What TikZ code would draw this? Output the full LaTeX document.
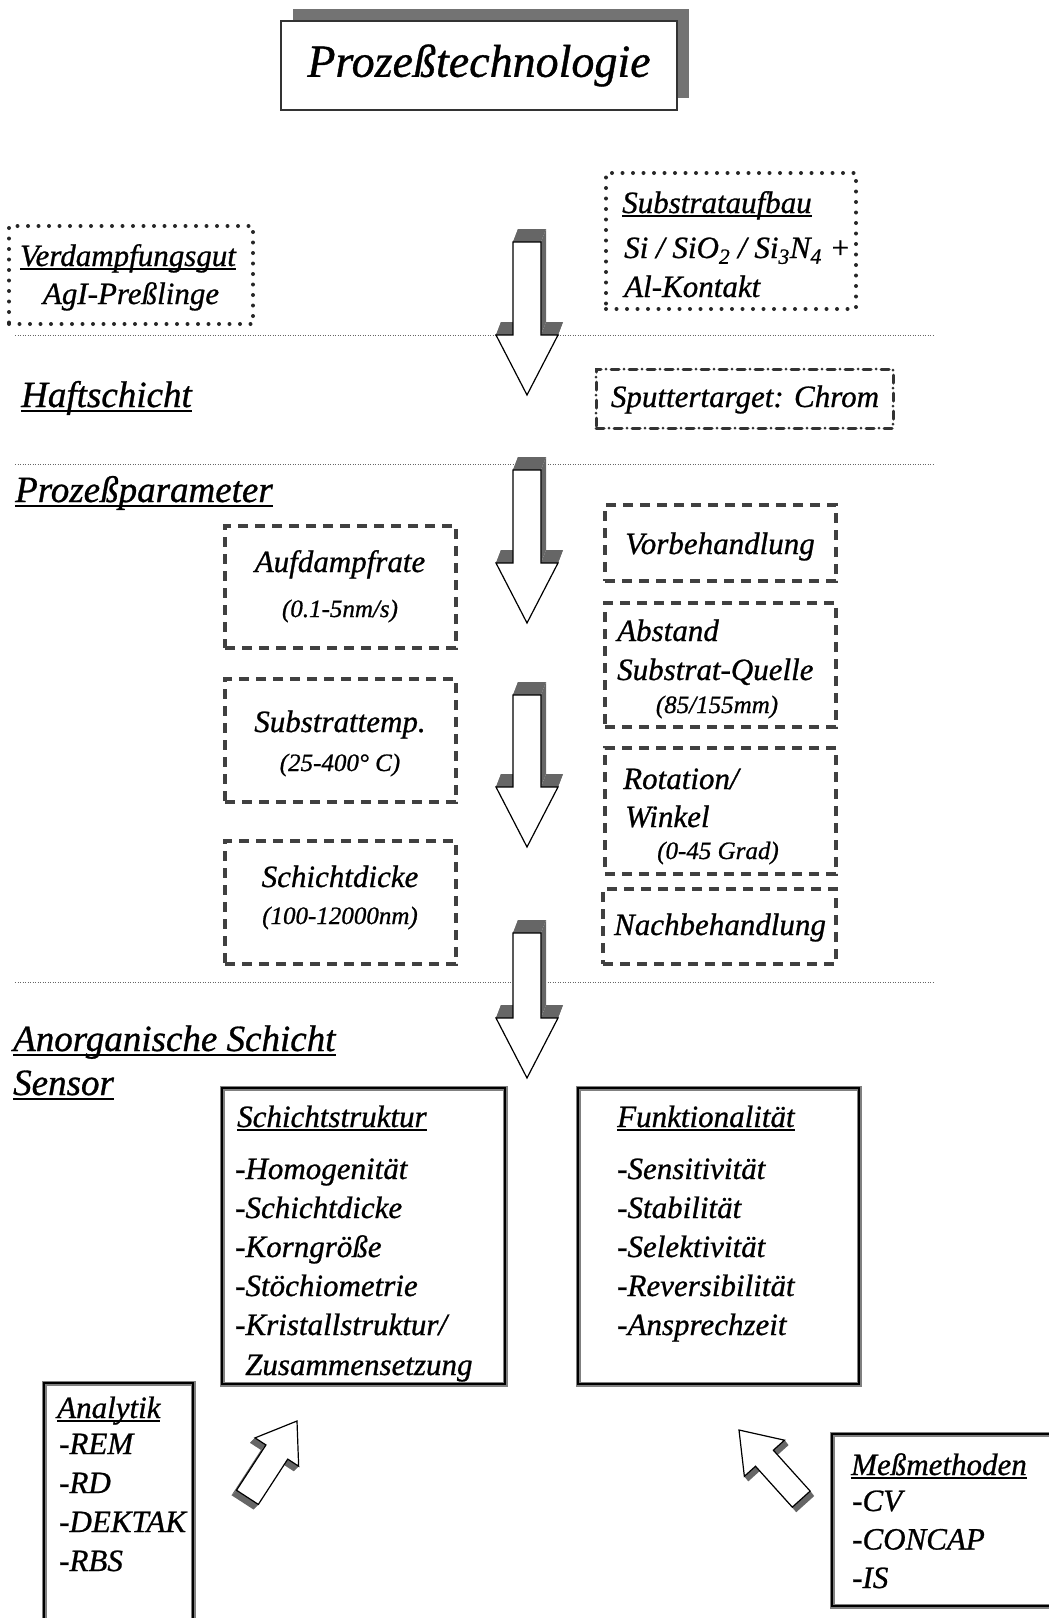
\documentclass[tikz,border=0pt]{standalone}
\usepackage{fontspec}
\setmainfont{Liberation Serif}[ItalicFeatures={FakeBold=0.8}]
\usetikzlibrary{calc}

% underlined words
\newcommand{\undl}[1]{\setbox0\hbox{#1}\rlap{\rule[-0.13em]{\wd0}{0.06em}}\box0}

% 3D block arrow: tip, rotation, head half width, head length, shaft half width, shaft length, depth
\newcommand{\blockarrow}[7]{%
  \begin{scope}[shift={#1}, rotate=#2]
    \coordinate (p1) at (0,0);
    \coordinate (p2) at (#3,-#4);
    \coordinate (p3) at (#5,-#4);
    \coordinate (p4) at (#5,-#4-#6);
    \coordinate (p5) at (-#5,-#4-#6);
    \coordinate (p6) at (-#5,-#4);
    \coordinate (p7) at (-#3,-#4);
  \end{scope}
  \foreach \a/\b in {p1/p2,p2/p3,p3/p4,p4/p5,p5/p6,p6/p7,p7/p1}
    \fill[arrowside] (\a) -- (\b) -- ($(\b)+#7$) -- ($(\a)+#7$) -- cycle;
  \filldraw[arrowface] (p1) -- (p2) -- (p3) -- (p4) -- (p5) -- (p6) -- (p7) -- cycle;
}

\tikzset{
  txt/.style={font=\fontsize{31}{38}\selectfont\itshape, inner sep=0pt},
  smalltxt/.style={font=\fontsize{25}{30}\selectfont\itshape, inner sep=0pt},
  headtxt/.style={font=\fontsize{37}{44}\selectfont\itshape, inner sep=0pt},
  titletxt/.style={font=\fontsize{46}{54}\selectfont\itshape},
  titlebox/.style={draw=black!80, line width=2.5pt, fill=white, minimum width=396pt, minimum height=89pt, inner sep=0pt},
  dotbox/.style={draw=black!85, line width=4pt, line cap=round, dash pattern=on 0pt off 10.5pt, inner sep=0pt},
  dashdotbox/.style={draw=black!80, line width=3pt, line cap=round, dash pattern=on 8pt off 5pt on 0pt off 5pt, inner sep=0pt},
  dashbox/.style={draw=black!75, line width=3.5pt, dash pattern=on 10pt off 7pt, inner sep=0pt},
  solidbox/.style={draw=black!50, line width=5pt, postaction={draw=black, line width=1.2pt}, inner sep=0pt},
  sepline/.style={black!60, line width=0.8pt, dash pattern=on 1pt off 1.5pt},
  arrowface/.style={fill=white, draw=black, line width=1.2pt},
  arrowside/.style={fill=black!60},
}

\begin{document}
\begin{tikzpicture}[x=1pt, y=-1pt]
\useasboundingbox (0,0) rectangle (1049,1618);
\clip (0,0) rectangle (1049,1618);

%title
\fill[black!55] (293,9) rectangle (689,98);
\node[titlebox, titletxt] (title) at (479,65.5) {Prozeßtechnologie};

%separating lines
\coordinate (L1) at (15,335);  \coordinate (R1) at (935,335);
\coordinate (L2) at (15,464);  \coordinate (R2) at (935,464);
\coordinate (L3) at (15,982);  \coordinate (R3) at (935,982);
\draw[sepline] (L1) -- (R1);
\draw[sepline] (L2) -- (R2);
\draw[sepline] (L3) -- (R3);

%source and substrate
\node[dotbox, minimum width=244pt, minimum height=98pt] (gut) at (131,275) {};
\node[txt, anchor=base] (gutA) at (128,266) {\undl{Verdampfungsgut}};
\node[txt, anchor=base] (gutB) at (131,304) {AgI-Preßlinge};

\node[dotbox, minimum width=250pt, minimum height=136pt] (substrat) at (731,241) {};
\node[txt, anchor=base] (substratA) at (717,213) {\undl{Substrataufbau}};
\node[txt, anchor=base west] (substratB) at (624,258) {Si / SiO\textsubscript{2} / Si\textsubscript{3}N\textsubscript{4} +};
\node[txt, anchor=base west] (substratC) at (624,297) {Al-Kontakt};

%adhesion layer
\node[headtxt, anchor=base west] (haft) at (21,407) {\undl{Haftschicht}};
\node[dashdotbox, minimum width=297pt, minimum height=59pt] (chrom) at (744.5,398.5) {};
\node[txt, anchor=base] (chromA) at (745,407) {Sputtertarget: Chrom};

%process parameters
\node[headtxt, anchor=base west] (param) at (15,502) {\undl{Prozeßparameter}};

\node[dashbox, minimum width=231pt, minimum height=122pt] (rate) at (340.5,587) {};
\node[txt, anchor=base] (rateA) at (340,572) {Aufdampfrate};
\node[smalltxt, anchor=base] (rateB) at (340,617) {(0.1-5nm/s)};

\node[dashbox, minimum width=231pt, minimum height=123pt] (temp) at (340.5,740.5) {};
\node[txt, anchor=base] (tempA) at (340,732) {Substrattemp.};
\node[smalltxt, anchor=base] (tempB) at (340,771) {(25-400° C)};

\node[dashbox, minimum width=231pt, minimum height=123pt] (dicke) at (340.5,902.5) {};
\node[txt, anchor=base] (dickeA) at (340,887) {Schichtdicke};
\node[smalltxt, anchor=base] (dickeB) at (340,924) {(100-12000nm)};

\node[dashbox, minimum width=231pt, minimum height=76pt] (vor) at (720.5,543) {};
\node[txt, anchor=base] (vorA) at (720,554) {Vorbehandlung};

\node[dashbox, minimum width=231pt, minimum height=124pt] (abstand) at (720.5,665) {};
\node[txt, anchor=base west] (abstandA) at (617,641) {Abstand};
\node[txt, anchor=base west] (abstandB) at (617,680) {Substrat-Quelle};
\node[smalltxt, anchor=base] (abstandC) at (717,713) {(85/155mm)};

\node[dashbox, minimum width=231pt, minimum height=126pt] (rot) at (720.5,811) {};
\node[txt, anchor=base west] (rotA) at (623,789) {Rotation/};
\node[txt, anchor=base west] (rotB) at (625,827) {Winkel};
\node[smalltxt, anchor=base] (rotC) at (718,859) {(0-45 Grad)};

\node[dashbox, minimum width=233pt, minimum height=75pt] (nach) at (719.5,926.5) {};
\node[txt, anchor=base] (nachA) at (720,935) {Nachbehandlung};

%arrows down the middle
\coordinate (tip1) at (527,395);
\coordinate (tip2) at (527,623);
\coordinate (tip3) at (527,847);
\coordinate (tip4) at (527,1078);
\blockarrow{(tip1)}{0}{31}{60}{14}{93}{(5,-13)}
\blockarrow{(tip2)}{0}{31}{60}{14}{93}{(5,-13)}
\blockarrow{(tip3)}{0}{31}{60}{14}{92}{(5,-13)}
\blockarrow{(tip4)}{0}{31}{60}{14}{85}{(5,-13)}

%resulting layer
\node[headtxt, anchor=base west] (anorg) at (13,1051) {\undl{Anorganische Schicht}};
\node[headtxt, anchor=base west] (sensor) at (13,1095) {\undl{Sensor}};

\node[solidbox, minimum width=283pt, minimum height=296pt] (struktur) at (363.5,1236) {};
\node[txt, anchor=base west] (strukturH) at (237,1127) {\undl{Schichtstruktur}};
\foreach \t [count=\i from 0] in {-Homogenität,-Schichtdicke,-Korngröße,-Stöchiometrie,-Kristallstruktur/}
  \node[txt, anchor=base west] (struktur\i) at (235,1179+39*\i) {\t};
\node[txt, anchor=base west] (struktur5) at (245,1375) {Zusammensetzung};

\node[solidbox, minimum width=281pt, minimum height=296pt] (funktion) at (718.5,1236) {};
\node[txt, anchor=base west] (funktionH) at (617,1127) {\undl{Funktionalität}};
\foreach \t [count=\i from 0] in {-Sensitivität,-Stabilität,-Selektivität,-Reversibilität,-Ansprechzeit}
  \node[txt, anchor=base west] (funktion\i) at (617,1179+39*\i) {\t};

%analysis and measurement
\node[solidbox, minimum width=149pt, minimum height=300pt] (analytik) at (118.5,1533) {};
\node[txt, anchor=base west] (analytikH) at (57,1418) {\undl{Analytik}};
\foreach \t [count=\i from 0] in {-REM,-RD,-DEKTAK,-RBS}
  \node[txt, anchor=base west] (analytik\i) at (59,1454+39*\i) {\t};

\node[solidbox, minimum width=240pt, minimum height=172pt] (messung) at (952,1520) {};
\node[txt, anchor=base west] (messungH) at (851,1475) {\undl{Meßmethoden}};
\foreach \t [count=\i from 0] in {-CV,-CONCAP,-IS}
  \node[txt, anchor=base west] (messung\i) at (852,1511+38.5*\i) {\t};

\coordinate (tip5) at (297,1421);
\coordinate (tip6) at (739,1430);
\blockarrow{(tip5)}{147}{26}{37}{13}{54}{(-5,5)}
\blockarrow{(tip6)}{222}{27}{38}{12}{55}{(4,5)}
\end{tikzpicture}
\end{document}
